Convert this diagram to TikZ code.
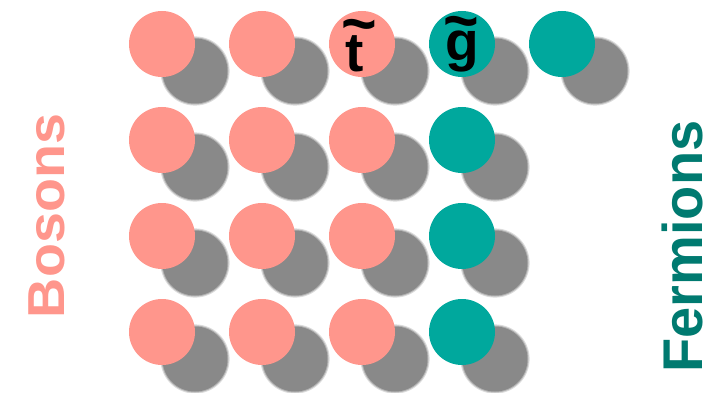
\documentclass[tikz,border=0pt]{standalone}
\usepackage{fontspec}
\setmainfont{Liberation Sans}
\definecolor{bpink}{RGB}{255,150,140}
\definecolor{fteal}{RGB}{0,168,157}
\definecolor{ftext}{RGB}{0,122,112}
\definecolor{shad}{RGB}{137,137,137}
\newcommand{\tildeover}[3]{% shift, raise, letter
  \makebox[0pt][l]{\hspace{#1}\makebox[0pt]{\smash{\raisebox{#2}{\fontsize{58}{58}\selectfont\bfseries\scalebox{1.05}[1.1]{\char"7E}}}}}#3}
\tikzset{
  ball/.style={circle, minimum size=66pt, inner sep=0pt, outer sep=0pt},
  boson/.style={ball, fill=bpink},
  fermion/.style={ball, fill=fteal},
  letter/.style={font=\fontsize{55}{55}\selectfont\bfseries, text=black, inner sep=0pt, anchor=base},
  sidelabel/.style={rotate=90, inner sep=0pt, text depth=0pt, anchor=south},
}
\newcommand{\shadowball}[2]{%
  \fill[shad] (#1+33,#2+27) circle (32.5);
  \fill[shad, opacity=0.5] (#1+33,#2+27) circle (33.5);
  \fill[shad, opacity=0.3] (#1+33,#2+27) circle (34.6);
}
\begin{document}
\begin{tikzpicture}[x=1pt,y=-1pt]
\useasboundingbox[fill=white] (0,0) rectangle (714,393);
% shadows
\foreach \y in {44,140,236,332}{
  \foreach \x in {162,262,362,462}{ \shadowball{\x}{\y} }
}
\shadowball{562}{44}
% row 1
\node[boson] (b11) at (162,44) {};
\node[boson] (b12) at (262,44) {};
\node[boson] (b13) at (362,44) {};
\node[fermion] (f14) at (462,44) {};
\node[fermion] (f15) at (562,44) {};
\node[letter] (tt) at (355,72) {\tildeover{13.7pt}{26pt}{t}};
\node[letter] (gg) at (462.5,61) {\tildeover{16pt}{18pt}{g}};
% rows 2-4
\foreach \r/\y in {2/140,3/236,4/332}{
  \node[boson] (b\r1) at (162,\y) {};
  \node[boson] (b\r2) at (262,\y) {};
  \node[boson] (b\r3) at (362,\y) {};
  \node[fermion] (f\r4) at (462,\y) {};
}
% labels
\node[sidelabel, text=bpink, font=\fontsize{52}{52}\selectfont\bfseries] (bosons) at (65,216) {\scalebox{1.07}[1]{Bosons}};
\node[sidelabel, text=ftext, font=\fontsize{56}{56}\selectfont\bfseries] (fermions) at (703,246.5) {Fermions};
\end{tikzpicture}
\end{document}
